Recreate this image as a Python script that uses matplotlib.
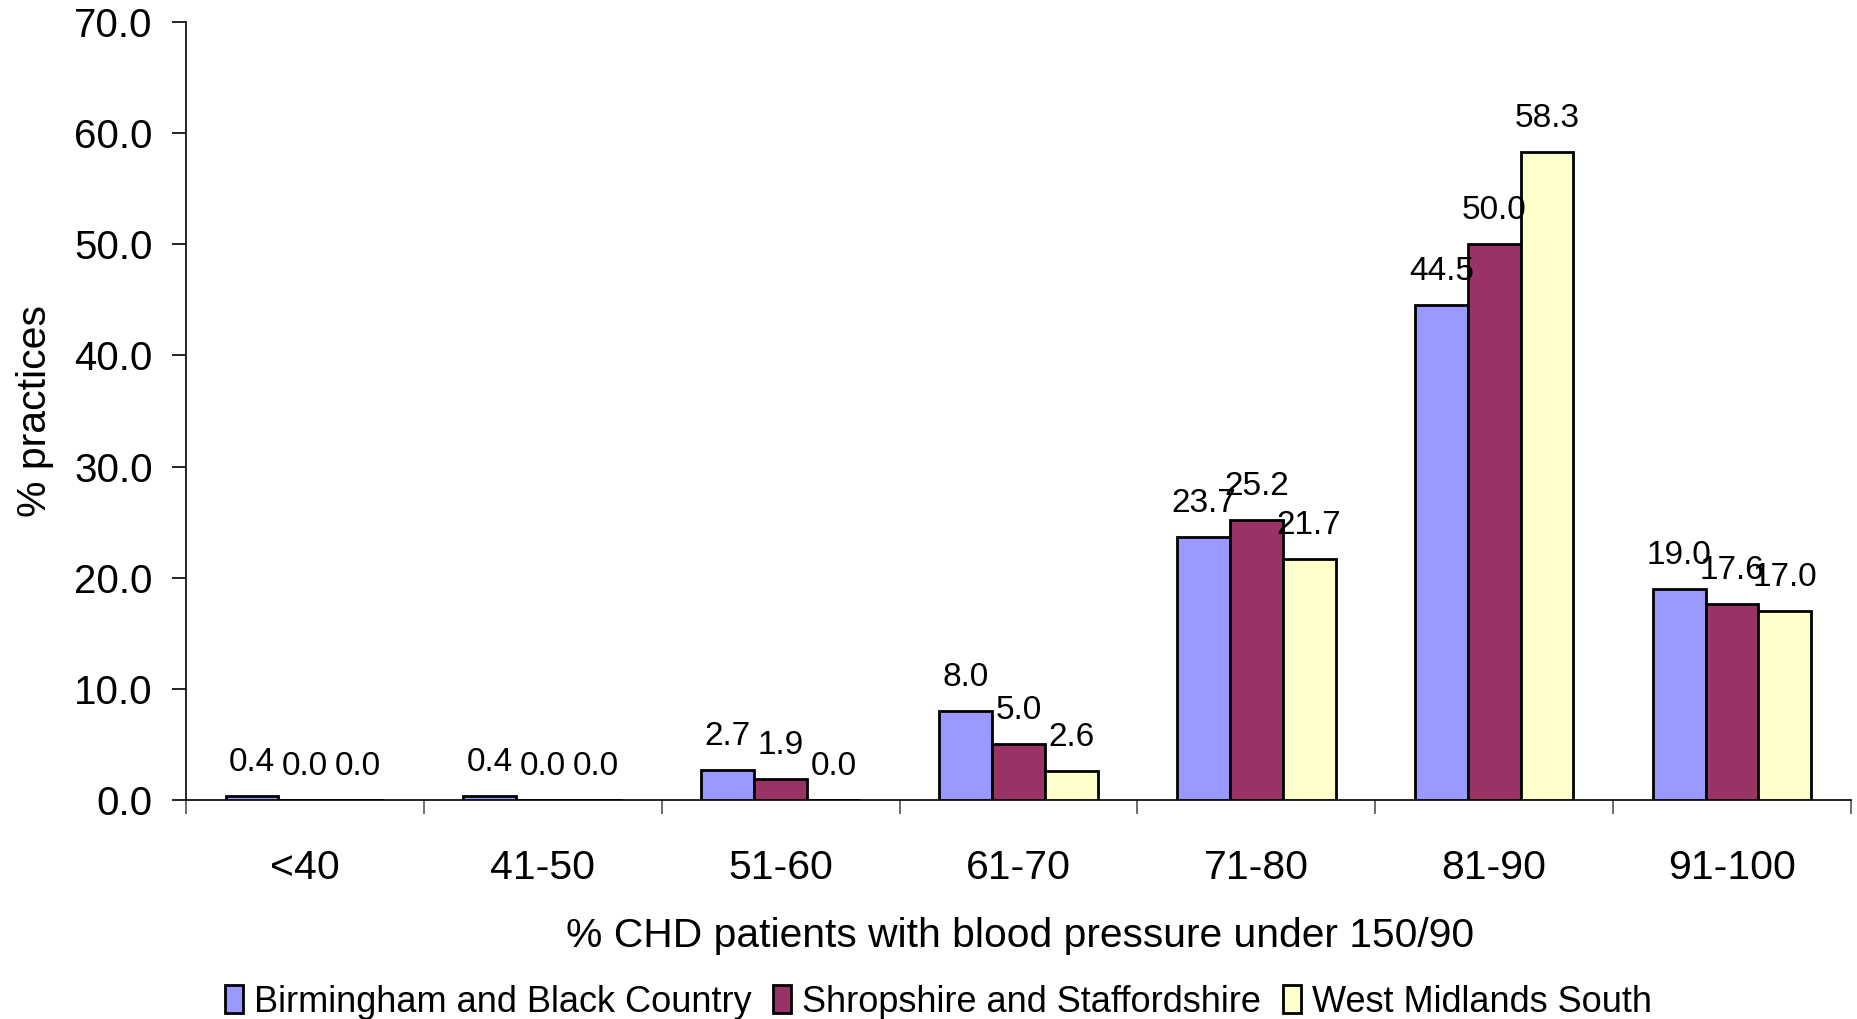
import numpy as np
import matplotlib
matplotlib.use("Agg")
import matplotlib.pyplot as plt
from matplotlib.ticker import FixedLocator, FormatStrFormatter, NullFormatter

plt.rcParams['font.family'] = ['Liberation Sans', 'DejaVu Sans']

# bands of % CHD patients with BP under 150/90
categories = ['<40', '41-50', '51-60', '61-70', '71-80', '81-90', '91-100']
series_names = ['Birmingham and Black Country',
                'Shropshire and Staffordshire',
                'West Midlands South']
birmingham = [0.4, 0.4, 2.7, 8.0, 23.7, 44.5, 19.0]
shropshire = [0.0, 0.0, 1.9, 5.0, 25.2, 50.0, 17.6]
wm_south = [0.0, 0.0, 0.0, 2.6, 21.7, 58.3, 17.0]
colors = ['#9999FF', '#993366', '#FFFFCC']

fig = plt.figure(figsize=(18.58, 10.19), dpi=100)
ax = fig.add_axes([0.1001, 0.2149, 0.8961, 0.7635])

x = np.arange(len(categories))
bar_w = 1 / 4.5  # excel style gap width 150%
values = [birmingham, shropshire, wm_south]

for i, (vals, col, name) in enumerate(zip(values, colors, series_names)):
    pos = x + (i - 1) * bar_w
    ax.bar(pos, vals, width=bar_w, color=col, edgecolor='black',
           linewidth=2.0, label=name, zorder=3)
    for px, v in zip(pos, vals):
        ax.annotate(f'{v:.1f}', (px, v), xytext=(0, 18),
                    textcoords='offset points', ha='center', va='baseline',
                    fontsize=24, zorder=4)

ax.set_xlim(-0.5, len(categories) - 0.5)
ax.set_ylim(0, 70)
ax.set_yticks(np.arange(0, 71, 10))
ax.yaxis.set_major_formatter(FormatStrFormatter('%.1f'))

# boundary ticks between groups, labels at group centres
ax.xaxis.set_major_locator(FixedLocator(np.arange(-0.5, len(categories), 1.0)))
ax.xaxis.set_major_formatter(NullFormatter())
ax.xaxis.set_minor_locator(FixedLocator(x))
ax.set_xticklabels(categories, minor=True)
ax.tick_params(axis='x', which='major', length=10, width=1.2,
               color='#555555', direction='out')
ax.tick_params(axis='x', which='minor', length=0, pad=35, labelsize=29.5)
ax.tick_params(axis='y', length=10, width=1.2, direction='out',
               pad=14, labelsize=29)

for s in ['top', 'right']:
    ax.spines[s].set_visible(False)
for s in ['left', 'bottom']:
    ax.spines[s].set_linewidth(1.2)

fig.text(0.019, 0.597, '% practices', rotation=90, ha='center', va='center',
         fontsize=29.5)
fig.text(0.549, 0.0815, '% CHD patients with blood pressure under 150/90',
         ha='center', va='center', fontsize=29.3)

fig.legend(loc='center', bbox_to_anchor=(0.505, 0.0165), ncol=3,
           frameon=False, fontsize=26, handlelength=0.5, handleheight=0.8,
           handletextpad=0.3, columnspacing=0.6, borderpad=0)

fig.savefig('out.png', dpi=100)
